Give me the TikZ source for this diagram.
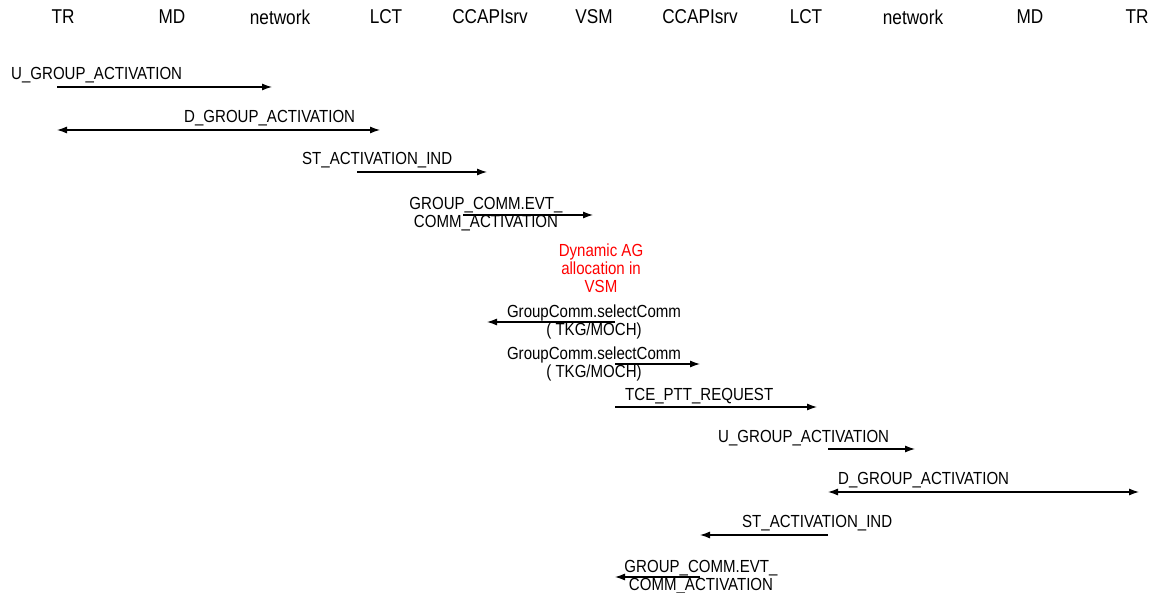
\documentclass[tikz,border=0pt]{standalone}
\usepackage{fontspec}
\setmainfont[FakeStretch=0.86]{Liberation Sans}
\usetikzlibrary{arrows.meta}
\tikzset{
  hdr/.style={inner sep=0pt, font=\fontsize{20}{22}\selectfont},
  lbl/.style={inner sep=0pt, font=\fontsize{17.5}{18}\selectfont, align=center},
  note/.style={lbl, text=red},
  msg/.style={line width=1.1pt, -{Latex[length=10pt,width=7pt]}},
  bmsg/.style={line width=1.1pt, {Latex[length=10pt,width=7pt]}-{Latex[length=10pt,width=7pt]}}
}
\begin{document}
\begin{tikzpicture}[x=1pt,y=-1pt]
\useasboundingbox (0,0) rectangle (1152,593);
% headers
\node[hdr] (h1) at (63,17) {TR};
\node[hdr] (h2) at (172,17) {MD};
\node[hdr] (h3) at (280,17) {network};
\node[hdr] (h4) at (386,17) {LCT};
\node[hdr] (h5) at (490,17) {CCAPIsrv};
\node[hdr] (h6) at (594,17) {VSM};
\node[hdr] (h7) at (700,17) {CCAPIsrv};
\node[hdr] (h8) at (806,17) {LCT};
\node[hdr] (h9) at (913,17) {network};
\node[hdr] (h10) at (1030,17) {MD};
\node[hdr] (h11) at (1137,17) {TR};
% message 1
\node[lbl,anchor=west] (l1) at (11,75) {U\_GROUP\_ACTIVATION};
\coordinate (a1s) at (57,87); \coordinate (a1e) at (272,87);
\draw[msg] (a1s) -- (a1e);
% message 2
\node[lbl,anchor=west] (l2) at (184,118) {D\_GROUP\_ACTIVATION};
\coordinate (a2s) at (57,130); \coordinate (a2e) at (380,130);
\draw[bmsg] (a2s) -- (a2e);
% message 3
\node[lbl,anchor=west] (l3) at (302,160) {ST\_ACTIVATION\_IND};
\coordinate (a3s) at (357,172); \coordinate (a3e) at (487,172);
\draw[msg] (a3s) -- (a3e);
% message 4
\node[lbl] (l4) at (486,214) {GROUP\_COMM.EVT\_\\COMM\_ACTIVATION};
\coordinate (a4s) at (463,215); \coordinate (a4e) at (593,215);
\draw[msg] (a4s) -- (a4e);
% note
\node[note] (n1) at (601,268) {Dynamic AG\\allocation in\\VSM};
% message 6
\node[lbl] (l6) at (594,322) {GroupComm.selectComm\\( TKG/MOCH)};
\coordinate (a6s) at (615,322); \coordinate (a6e) at (487,322);
\draw[msg] (a6s) -- (a6e);
% message 7
\node[lbl] (l7) at (594,364) {GroupComm.selectComm\\( TKG/MOCH)};
\coordinate (a7s) at (615,364); \coordinate (a7e) at (700,364);
\draw[msg] (a7s) -- (a7e);
% message 8
\node[lbl,anchor=west] (l8) at (625,396) {TCE\_PTT\_REQUEST};
\coordinate (a8s) at (615,407); \coordinate (a8e) at (817,407);
\draw[msg] (a8s) -- (a8e);
% message 9
\node[lbl,anchor=west] (l9) at (718,438) {U\_GROUP\_ACTIVATION};
\coordinate (a9s) at (828,449); \coordinate (a9e) at (915,449);
\draw[msg] (a9s) -- (a9e);
% message 10
\node[lbl,anchor=west] (l10) at (838,480) {D\_GROUP\_ACTIVATION};
\coordinate (a10s) at (828,492); \coordinate (a10e) at (1139,492);
\draw[bmsg] (a10s) -- (a10e);
% message 11
\node[lbl,anchor=west] (l11) at (742,523) {ST\_ACTIVATION\_IND};
\coordinate (a11s) at (828,535); \coordinate (a11e) at (700,535);
\draw[msg] (a11s) -- (a11e);
% message 12
\node[lbl] (l12) at (701,577) {GROUP\_COMM.EVT\_\\COMM\_ACTIVATION};
\coordinate (a12s) at (700,577); \coordinate (a12e) at (615,577);
\draw[msg] (a12s) -- (a12e);
\end{tikzpicture}
\end{document}
